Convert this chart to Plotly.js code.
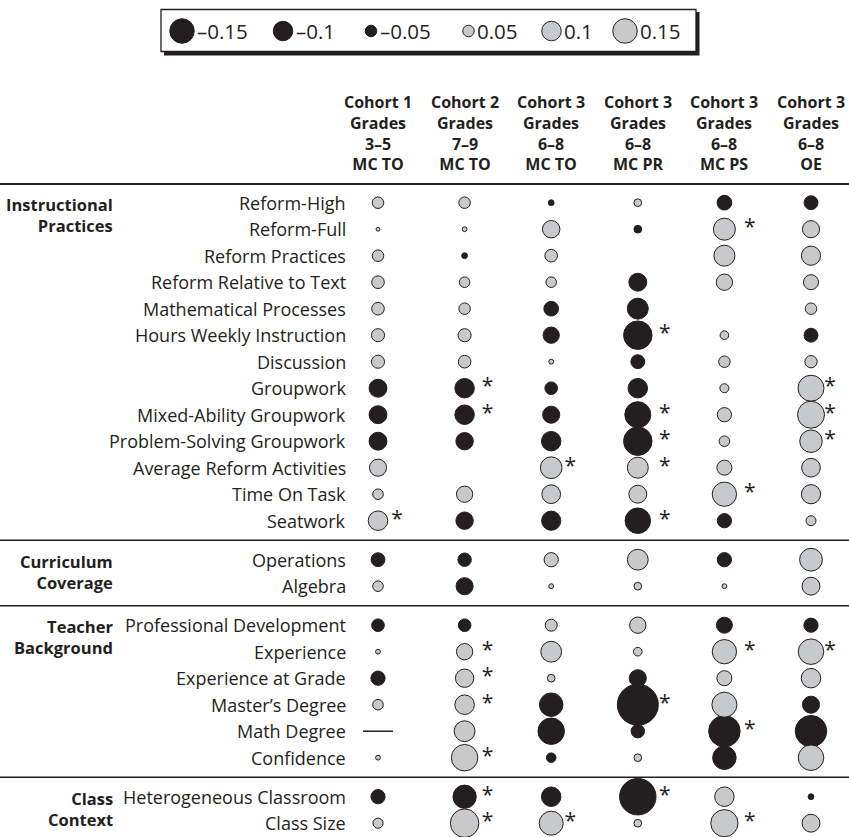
<!DOCTYPE html>
<html><head><meta charset="utf-8">
<script src="https://cdn.plot.ly/plotly-3.0.1.min.js"></script>
<style>html,body{margin:0;padding:0;background:#fff}</style>
</head><body><div id="chart" style="width:849px;height:837px"></div>
<script>
// ---------------- DATA ----------------
const cohorts = ["Cohort 1", "Cohort 2", "Cohort 3", "Cohort 3", "Cohort 3", "Cohort 3"];
const gradeBands = ["3–5", "7–9", "6–8", "6–8", "6–8", "6–8"];
const measures = ["MC TO", "MC TO", "MC TO", "MC PR", "MC PS", "OE"];

const groupTop = ["Instructional", "Curriculum", "Teacher", "Class"];
const groupBottom = ["Practices", "Coverage", "Background", "Context"];
const groupSizes = [13, 2, 6, 2];

const rowLabels = [
  "Reform-High", "Reform-Full", "Reform Practices", "Reform Relative to Text",
  "Mathematical Processes", "Hours Weekly Instruction", "Discussion", "Groupwork",
  "Mixed-Ability Groupwork", "Problem-Solving Groupwork", "Average Reform Activities",
  "Time On Task", "Seatwork",
  "Operations", "Algebra",
  "Professional Development", "Experience", "Experience at Grade", "Master’s Degree",
  "Math Degree", "Confidence",
  "Heterogeneous Classroom", "Class Size"
];

// effect values per column (negative = black, positive = gray, null = blank, "NA" = dash)
const valC1 = [0.05, 0.01, 0.05, 0.057, 0.057, 0.06, 0.06, -0.09, -0.09, -0.09, 0.085, 0.045, 0.1,
               -0.065, 0.045, -0.057, 0.015, -0.067, 0.045, "NA", 0.015, -0.067, 0.043];
const valC2 = [0.05, 0.015, -0.02, 0.045, 0.05, 0.06, 0.057, -0.1, -0.1, -0.087, null, 0.08, -0.087,
               -0.062, -0.085, -0.057, 0.08, 0.093, 0.1, 0.113, 0.17, -0.138, 0.19];
const valC3 = [-0.02, 0.087, 0.057, 0.045, -0.07, -0.08, 0.015, -0.057, -0.085, -0.1, 0.122, 0.095, -0.098,
               0.067, 0.015, 0.053, 0.113, 0.03, -0.14, -0.17, -0.04, -0.1, 0.145];
const valC4 = [0.03, -0.03, null, -0.09, -0.115, -0.19, -0.065, -0.1, -0.165, -0.19, 0.115, 0.09, -0.16,
               0.113, 0.03, 0.08, 0.035, -0.085, -0.315, -0.062, 0.03, -0.27, 0.03];
const valC5 = [-0.07, 0.125, 0.115, 0.08, null, 0.035, 0.05, 0.037, 0.067, 0.045, 0.072, 0.148, -0.067,
               -0.067, 0.015, -0.078, 0.148, 0.072, 0.155, -0.22, -0.14, 0.1, 0.177];
const valC6 = [-0.065, 0.085, 0.098, 0.072, 0.05, -0.065, 0.055, 0.165, 0.175, 0.13, 0.095, 0.098, 0.042,
               0.133, 0.09, -0.067, 0.16, 0.1, -0.085, -0.22, 0.16, -0.02, 0.09];

// significant cells (asterisk)
const sigC1 = ["Seatwork"];
const sigC2 = ["Groupwork", "Mixed-Ability Groupwork", "Experience", "Experience at Grade",
               "Master’s Degree", "Confidence", "Heterogeneous Classroom", "Class Size"];
const sigC3 = ["Average Reform Activities", "Class Size"];
const sigC4 = ["Hours Weekly Instruction", "Mixed-Ability Groupwork", "Problem-Solving Groupwork",
               "Average Reform Activities", "Seatwork", "Master’s Degree", "Heterogeneous Classroom"];
const sigC5 = ["Reform-Full", "Time On Task", "Experience", "Math Degree", "Class Size"];
const sigC6 = ["Groupwork", "Mixed-Ability Groupwork", "Problem-Solving Groupwork", "Experience"];

const legendValues = [-0.15, -0.1, -0.05, 0.05, 0.1, 0.15];
const legendLabels = ["–0.15", "–0.1", "–0.05", "0.05", "0.1", "0.15"];

// ---------------- LAYOUT HELPERS ----------------
const W = 849, H = 837;
const COL0 = 378, COLSTEP = 86.6;
const ROW0 = 202.7, ROWSTEP = 26.5, GAP = 12.5;
const px2x = p => (p - COL0) / COLSTEP;
const px2y = p => (p - ROW0) / ROWSTEP;
const DARK = "#231f20", GRAY = "#c8c9cb";
const FONT = "Open Sans, Noto Sans, sans-serif";
const STAR_DX = [19, 23, 19, 27, 25.5, 19];

function diam(v) {
  const a = Math.abs(v);
  const pts = [[0, 2], [0.05, 11.5], [0.1, 19.5], [0.15, 24.5]];
  if (a >= 0.15) return 24.5 + 100 * (a - 0.15);
  for (let i = 1; i < pts.length; i++) {
    if (a <= pts[i][0]) {
      const [x0, y0] = pts[i - 1], [x1, y1] = pts[i];
      return y0 + (y1 - y0) * (a - x0) / (x1 - x0);
    }
  }
}

// row positions (with gaps between groups)
const rowPos = [];
const groupStartRow = [];
{
  let i = 0;
  groupSizes.forEach((n, g) => {
    groupStartRow.push(i);
    for (let k = 0; k < n; k++) { rowPos.push(i + g * GAP / ROWSTEP); i++; }
  });
}

const columns = [valC1, valC2, valC3, valC4, valC5, valC6];
const sigs = [sigC1, sigC2, sigC3, sigC4, sigC5, sigC6];

const neg = {x: [], y: [], s: []}, pos = {x: [], y: [], s: []}, na = {x: [], y: []}, star = {x: [], y: []};
columns.forEach((col, c) => {
  col.forEach((v, r) => {
    if (v === null) return;
    if (v === "NA") { na.x.push(c); na.y.push(rowPos[r]); return; }
    const t = v < 0 ? neg : pos;
    t.x.push(c); t.y.push(rowPos[r]); t.s.push(diam(v));
  });
  sigs[c].forEach(lab => {
    const r = rowLabels.indexOf(lab);
    star.x.push(c + STAR_DX[c] / COLSTEP); star.y.push(rowPos[r]);
  });
});

// legend geometry
const legCx = [182, 283, 371, 468.5, 551.5, 625];
const legCy = 31;

const traces = [
  {type: "scatter", mode: "markers", x: legCx.map(px2x), y: legendValues.map(() => px2y(legCy)),
   marker: {size: legendValues.map(diam), color: legendValues.map(v => v < 0 ? DARK : GRAY), opacity: 1,
            line: {color: DARK, width: 1}}, cliponaxis: false, hoverinfo: "skip"},
  {type: "scatter", mode: "markers", x: neg.x, y: neg.y,
   marker: {size: neg.s, color: DARK, opacity: 1, line: {color: DARK, width: 1}}, cliponaxis: false, hoverinfo: "skip"},
  {type: "scatter", mode: "markers", x: pos.x, y: pos.y,
   marker: {size: pos.s, color: GRAY, opacity: 1, line: {color: DARK, width: 1}}, cliponaxis: false, hoverinfo: "skip"},
  {type: "scatter", mode: "markers", x: na.x, y: na.y,
   marker: {symbol: "line-ew", size: 21.5, opacity: 1, line: {color: DARK, width: 1.5}}, cliponaxis: false, hoverinfo: "skip"},
  {type: "scatter", mode: "text", x: star.x, y: star.y, text: star.x.map(() => "*"),
   textposition: "middle center", textfont: {family: FONT, size: 21, color: DARK}, cliponaxis: false, hoverinfo: "skip"}
];

const annotations = [];
const ann = (x, y, text, opts) => annotations.push(Object.assign({
  xref: "x", yref: "y", x, y, text, showarrow: false, xanchor: "center", yanchor: "middle",
  font: {family: FONT, size: 18, color: DARK}
}, opts || {}));

// row labels
rowLabels.forEach((lab, r) => ann(px2x(348), rowPos[r], lab, {xanchor: "right"}));
// group labels
groupTop.forEach((g, k) => {
  const r0 = groupStartRow[k];
  ann(px2x(115), rowPos[r0], "<b>" + g + "</b><br><b>" + groupBottom[k] + "</b>",
      {xanchor: "right", yanchor: "top", yshift: 12, align: "right", font: {family: FONT, size: 16.5, color: DARK}});
});
// column headers (one text block per column)
cohorts.forEach((c, i) => {
  const txt = [cohorts[i], "Grades", gradeBands[i], measures[i]].map(t => "<b>" + t + "</b>").join("<br>");
  ann(i, px2y(133), txt, {font: {family: FONT, size: 16, color: DARK}});
});
// legend labels
legendValues.forEach((v, i) => ann(px2x(legCx[i] + diam(v) / 2 + 1), px2y(legCy), legendLabels[i],
  {xanchor: "left", font: {family: FONT, size: 20.5, color: DARK}}));

const shapes = [];
// legend box with shadow
shapes.push({type: "rect", xref: "x", yref: "y", x0: px2x(164), x1: px2x(699.5), y0: px2y(12), y1: px2y(55.5),
  fillcolor: DARK, line: {width: 0}, layer: "below"});
shapes.push({type: "rect", xref: "x", yref: "y", x0: px2x(161), x1: px2x(696), y0: px2y(9.5), y1: px2y(51.5),
  fillcolor: "#ffffff", line: {color: DARK, width: 1.3}, layer: "below"});
// rules
shapes.push({type: "line", xref: "paper", yref: "y", x0: 0, x1: 1, y0: px2y(184), y1: px2y(184),
  line: {color: DARK, width: 2}});
for (let k = 1; k < groupSizes.length; k++) {
  const r = groupStartRow[k];
  const ym = (rowPos[r - 1] + rowPos[r]) / 2;
  shapes.push({type: "line", xref: "paper", yref: "y", x0: 0, x1: 1, y0: ym, y1: ym,
    line: {color: DARK, width: 1.6}});
}

const layout = {
  width: W, height: H, margin: {l: 0, r: 0, t: 0, b: 0},
  paper_bgcolor: "#ffffff", plot_bgcolor: "#ffffff", showlegend: false,
  xaxis: {range: [px2x(0), px2x(W)], visible: false, fixedrange: true},
  yaxis: {range: [px2y(H), px2y(0)], visible: false, fixedrange: true},
  annotations, shapes
};
Plotly.newPlot("chart", traces, layout, {staticPlot: true, displayModeBar: false});
</script></body></html>
